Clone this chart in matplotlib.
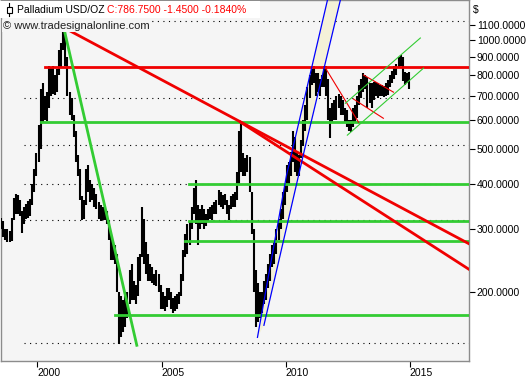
import matplotlib
matplotlib.use("Agg")
import matplotlib.pyplot as plt
from matplotlib.patches import Rectangle, Polygon
from matplotlib.ticker import NullLocator, FixedLocator

plt.rcParams['font.family'] = ['Liberation Sans', 'DejaVu Sans']

# monthly price range (USD/oz), Jul 1998 .. Dec 2014
start_year = 1998.5
lows = [
    300, 285, 280, 275, 275, 278,                                 # 1998 (Jul-Dec)
    318, 330, 330, 325, 292, 310, 320, 322, 325, 350, 380, 420,   # 1999
    460, 500, 590, 600, 595, 650, 700, 710, 705, 720, 800, 840,   # 2000
    940, 850, 700, 620, 600, 540, 460, 420, 360, 318, 320, 350,   # 2001
    380, 355, 360, 345, 340, 320, 315, 318, 318, 310, 280, 245,   # 2002
    245, 240, 200, 144, 150, 155, 160, 170, 185, 190, 190, 185,   # 2003
    195, 215, 250, 240, 225, 215, 215, 212, 210, 208, 200, 180,   # 2004
    180, 178, 182, 190, 180, 175, 178, 180, 185, 195, 215, 250,   # 2005
    255, 270, 300, 330, 310, 270, 300, 310, 300, 305, 315, 320,   # 2006
    318, 330, 330, 350, 345, 340, 350, 330, 318, 340, 345, 345,   # 2007
    360, 400, 430, 420, 420, 430, 380, 290, 200, 160, 165, 170,   # 2008
    175, 185, 190, 205, 215, 235, 240, 255, 280, 300, 320, 350,   # 2009
    380, 400, 420, 460, 430, 420, 420, 470, 510, 560, 600, 690,   # 2010
    750, 760, 700, 720, 700, 740, 740, 700, 600, 534, 590, 600,   # 2011
    600, 650, 620, 620, 590, 575, 560, 555, 575, 590, 610, 660,   # 2012
    690, 720, 730, 650, 670, 650, 680, 700, 690, 700, 700, 697,   # 2013
    700, 705, 740, 760, 780, 800, 840, 850, 770, 750, 760, 730,   # 2014
]
highs = [
    322, 315, 300, 300, 296, 322,
    365, 375, 372, 360, 335, 345, 352, 358, 362, 400, 440, 485,
    580, 730, 760, 700, 720, 845, 840, 845, 800, 830, 940, 980,
    1087, 1060, 900, 720, 690, 620, 560, 480, 440, 370, 360, 440,
    450, 410, 400, 390, 375, 355, 350, 345, 340, 335, 318, 290,
    275, 270, 255, 200, 195, 190, 195, 200, 230, 240, 215, 210,
    250, 255, 344, 320, 275, 255, 240, 235, 225, 230, 225, 210,
    200, 195, 205, 206, 200, 193, 195, 198, 200, 225, 262, 290,
    310, 315, 345, 390, 409, 350, 340, 350, 340, 330, 340, 345,
    350, 355, 360, 384, 380, 372, 375, 360, 350, 370, 375, 380,
    430, 560, 588, 485, 470, 480, 475, 380, 300, 230, 212, 200,
    200, 215, 225, 240, 255, 270, 275, 300, 320, 340, 380, 400,
    450, 460, 490, 560, 540, 490, 480, 530, 600, 660, 740, 800,
    830, 845, 810, 810, 780, 800, 845, 845, 780, 650, 670, 680,
    700, 710, 700, 680, 650, 640, 600, 600, 650, 660, 700, 750,
    780, 810, 800, 790, 760, 760, 765, 765, 760, 750, 750, 745,
    760, 775, 800, 820, 845, 860, 900, 910, 900, 815, 810, 815,
]
dates = [start_year + (i + 0.5) / 12 for i in range(len(lows))]

# horizontal support / resistance levels: (price, start date)
red_levels = [(843, 2000.32)]
green_levels = [(593, 2000.16), (400, 2006.12), (316, 2006.12), (278, 2005.96), (172.5, 2003.14)]
grid_levels = [1128, 690, 511, 400, 317, 144.6]

# trend lines: ((date0, price0), (date1, price1))
red_thick = [((2001.01, 1087), (2017.36, 273)), ((2008.18, 592), (2017.36, 232))]
red_thin = [((2011.60, 836), (2012.93, 592)), ((2013.13, 800), (2014.34, 717)),
            ((2012.73, 686), (2013.93, 607))]
green_thick = [((2001.05, 1087), (2004.0, 142.6))]
green_thin = [((2012.40, 668), (2015.42, 1013)), ((2012.48, 545), (2015.55, 836))]
# rising channel 2008-2011 (blue borders)
blue_left = [(2008.86, 150), (2010.03, 422), (2011.68, 1291)]
blue_right = [(2009.12, 162), (2010.75, 495), (2012.20, 1291)]

W, H = 529, 380
fig = plt.figure(figsize=(W / 100, H / 100), dpi=100)
fig.patch.set_facecolor('white')
ax = fig.add_axes([0.5 / W, 19 / H, 468 / W, 361 / H])
ax.set_facecolor('#f5f5f5')
ax.set_yscale('log')
ax.set_xlim(1998.51, 2017.36)
ax.set_ylim(129, 1291)

for sp in ax.spines.values():
    sp.set_color('#8c8c8c')
    sp.set_linewidth(1.0)

# dotted grid
for g in grid_levels:
    ax.plot([1999.45, 2017.36], [g, g], color='black', lw=0.8,
            linestyle=(0, (1, 4)), zorder=1)

# channel fill
poly = Polygon(blue_left + blue_right[::-1], closed=True, facecolor='#f4f1d8',
               edgecolor='none', zorder=2)
ax.add_patch(poly)

# price bars
ax.vlines(dates, lows, highs, color='black', lw=1.5, zorder=3)

for p, d0 in red_levels:
    ax.plot([d0, 2017.36], [p, p], color='#f00000', lw=2.0, zorder=5)
for p, d0 in green_levels:
    ax.plot([d0, 2017.36], [p, p], color='#33cc33', lw=2.0, zorder=5)
for (d0, p0), (d1, p1) in red_thick:
    ax.plot([d0, d1], [p0, p1], color='#f00000', lw=2.0, zorder=6)
for (d0, p0), (d1, p1) in red_thin:
    ax.plot([d0, d1], [p0, p1], color='#f00000', lw=0.8, zorder=6)
for (d0, p0), (d1, p1) in green_thick:
    ax.plot([d0, d1], [p0, p1], color='#33cc33', lw=2.0, zorder=6)
for (d0, p0), (d1, p1) in green_thin:
    ax.plot([d0, d1], [p0, p1], color='#33cc33', lw=0.8, zorder=6)
for line in (blue_left, blue_right):
    ax.plot([d for d, p in line], [p for d, p in line], color='#0000ff', lw=0.9, zorder=6)

# axes ticks
yt = [200, 300, 400, 500, 600, 700, 800, 900, 1000, 1100]
ax.yaxis.tick_right()
ax.yaxis.set_major_locator(FixedLocator(yt))
ax.yaxis.set_minor_locator(NullLocator())
ax.set_yticklabels([f'{v:.4f}' for v in yt])
ax.tick_params(axis='y', length=4, pad=2, labelsize=7.5, color='black')

xt = [2000, 2005, 2010, 2015]
ax.set_xticks(xt)
ax.set_xticklabels([str(v) for v in xt], ha='left')
ax.tick_params(axis='x', length=4, pad=1, labelsize=7.5, color='black')

# header box
fig.add_artist(Rectangle((0, 1 - 18 / H), 260 / W, 17.5 / H, transform=fig.transFigure,
                         facecolor='white', edgecolor='none', zorder=10))
fig.add_artist(Rectangle((6.5 / W, 1 - 13 / H), 5 / W, 6 / H, transform=fig.transFigure,
                         facecolor='white', edgecolor='black', lw=0.8, zorder=11))
fig.add_artist(plt.Line2D([9 / W, 9 / W], [1 - 3 / H, 1 - 6.5 / H], transform=fig.transFigure,
                          color='black', lw=0.8, zorder=11))
fig.add_artist(plt.Line2D([9 / W, 9 / W], [1 - 13 / H, 1 - 16 / H], transform=fig.transFigure,
                          color='black', lw=0.8, zorder=11))
fig.text(17 / W, 1 - 10 / H, 'Palladium USD/OZ', fontsize=7.5, va='center', ha='left',
         color='black', zorder=12)
fig.text(107 / W, 1 - 10 / H, 'C:786.7500 -1.4500 -0.1840%', fontsize=7.5, va='center',
         ha='left', color='#ff0000', zorder=12)
fig.text(3 / W, 1 - 26 / H, '\u00a9 www.tradesignalonline.com', fontsize=8, va='center',
         ha='left', color='#202020', zorder=12,
         bbox=dict(facecolor='#f5f5f5', edgecolor='none', pad=0.5))
fig.text(473 / W, 1 - 10 / H, '$', fontsize=7.5, va='center', ha='left', color='black')

fig.savefig('out.png', dpi=100)
